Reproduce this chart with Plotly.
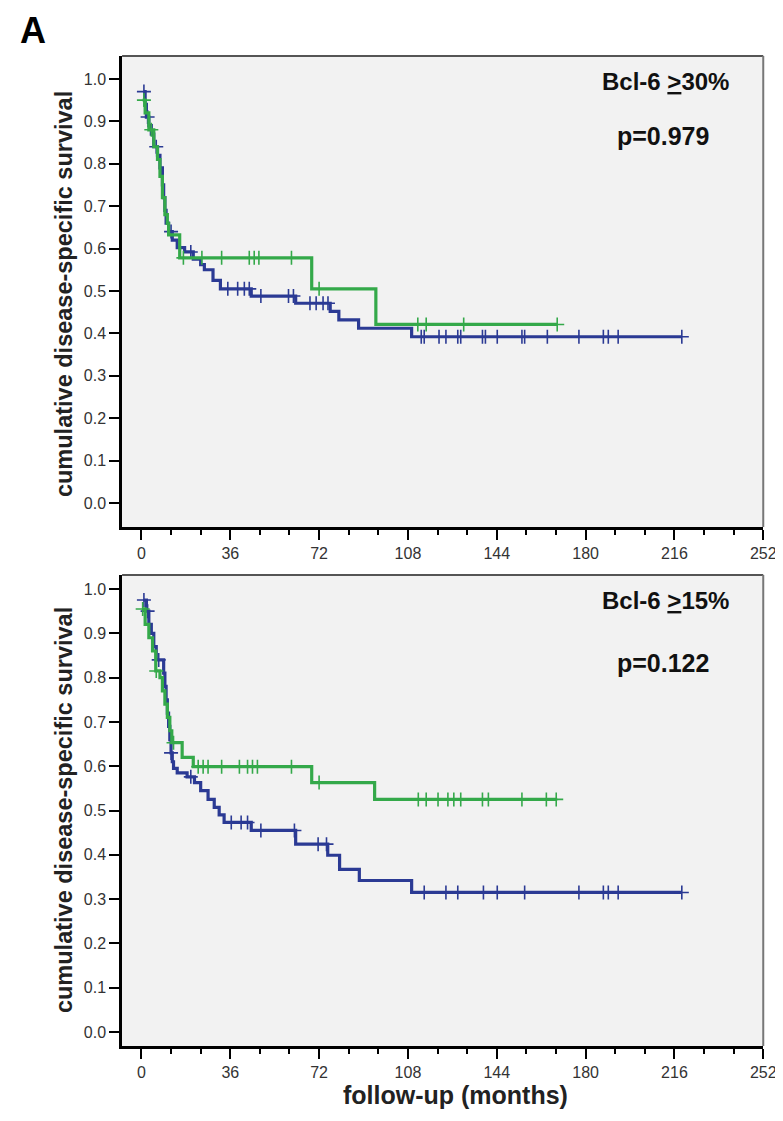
import numpy as np
import plotly.graph_objects as go

# ---------------- data ----------------
# Panel 1: Bcl-6 >=30%
p1_blue_t = [1, 1.5, 2, 3, 4, 5, 6.5, 7.5, 8.5, 9, 9.5, 10, 11, 12.5, 14.5, 17.5, 21, 24, 25.5, 29, 32, 44.5, 62.5, 76.5, 80, 88, 109.5]
p1_blue_s = [0.97, 0.94, 0.91, 0.89, 0.87, 0.84, 0.82, 0.79, 0.75, 0.72, 0.69, 0.66, 0.64, 0.62, 0.602, 0.592, 0.575, 0.562, 0.55, 0.525, 0.505, 0.488, 0.471, 0.452, 0.432, 0.412, 0.392]
p1_blue_end = 219
p1_blue_cens = [1, 2.5, 6, 12, 20, 35, 39, 41.7, 43.7, 48.4, 59.6, 61.6, 68.3, 70.8, 73.6, 75.6, 113.4, 114.6,
                120.6, 123.4, 128.2, 129.4, 138.2, 139.4, 144.2, 154.2, 155.3, 164.5, 177.3, 187.2, 189.2, 193.2, 219]

p1_green_t = [0.5, 1.5, 3, 5, 6.5, 7.5, 8.5, 9.5, 10.5, 11, 15.5, 69, 95]
p1_green_s = [0.95, 0.92, 0.88, 0.84, 0.81, 0.77, 0.72, 0.68, 0.659, 0.632, 0.578, 0.505, 0.421]
p1_green_end = 168.5
p1_green_cens = [1, 4, 17, 24.5, 32.5, 43.7, 45.7, 47.6, 60.8, 72, 112, 115.4, 130.6, 168.5]

# Panel 2: Bcl-6 >=15%
p2_blue_t = [1, 2, 3, 4, 5, 6, 9, 9.5, 10, 10.5, 11, 11.5, 12, 12.5, 13, 14.5, 18.5, 21.5, 24, 27, 29.5, 31.5, 33.5, 44.5, 62.5, 75.5, 80.3, 88.3, 109.5]
p2_blue_s = [0.975, 0.95, 0.92, 0.90, 0.87, 0.84, 0.81, 0.78, 0.75, 0.72, 0.69, 0.66, 0.63, 0.61, 0.595, 0.585, 0.576, 0.563, 0.545, 0.525, 0.507, 0.49, 0.473, 0.455, 0.424, 0.399, 0.367, 0.342, 0.315]
p2_blue_end = 219
p2_blue_cens = [1, 2.5, 7, 12, 20, 36.4, 40.4, 43, 48.4, 62, 71.6, 75, 114.6, 123.4, 128.2, 138.6, 144.2,
                155.3, 177.3, 187.2, 189.2, 193.2, 219]

p2_green_t = [0.5, 1.5, 3, 4.5, 5.8, 7.5, 8.5, 9.5, 10.5, 11.5, 12.3, 16.5, 21, 69, 94.5]
p2_green_s = [0.955, 0.92, 0.89, 0.86, 0.815, 0.80, 0.77, 0.74, 0.71, 0.68, 0.653, 0.62, 0.599, 0.563, 0.525]
p2_green_end = 168.5
p2_green_cens = [0.5, 6, 13, 23, 25, 27, 32.5, 39.7, 43, 45, 47, 60.8, 72, 112.2, 115.4, 120.2, 124.2,
                 126.6, 129.4, 138.2, 140.6, 154.2, 164.1, 168.1]

x_ticks = [0, 36, 72, 108, 144, 180, 216, 252]
y_ticks = [0.0, 0.1, 0.2, 0.3, 0.4, 0.5, 0.6, 0.7, 0.8, 0.9, 1.0]
panel_titles = ["Bcl-6 <u>></u>30%", "Bcl-6 <u>></u>15%"]
p_values = ["p=0.979", "p=0.122"]

# ---------------- styling ----------------
W, H = 783, 1121
BLUE = "#2b3a94"
GREEN = "#34a94a"
FONT = "Liberation Sans, Arial, sans-serif"

def step_xy(t, s, end):
    return list(t) + [end], list(s) + [s[-1]]

def cens_y(t, s, c):
    t = np.asarray(t)
    idx = np.searchsorted(t, np.asarray(c), side="right") - 1
    idx = np.clip(idx, 0, len(s) - 1)
    return [s[i] for i in idx]

fig = go.Figure()

panels = [
    ("x", "y", p1_blue_t, p1_blue_s, p1_blue_end, p1_blue_cens, p1_green_t, p1_green_s, p1_green_end, p1_green_cens),
    ("x2", "y2", p2_blue_t, p2_blue_s, p2_blue_end, p2_blue_cens, p2_green_t, p2_green_s, p2_green_end, p2_green_cens),
]
for xa, ya, bt, bs, be, bc, gt, gs, ge, gc in panels:
    for t, s, e, c, col in [(bt, bs, be, bc, BLUE), (gt, gs, ge, gc, GREEN)]:
        x, y = step_xy(t, s, e)
        fig.add_trace(go.Scatter(x=x, y=y, mode="lines", line=dict(color=col, width=3.2, shape="hv"),
                                 xaxis=xa, yaxis=ya, showlegend=False, hoverinfo="skip"))
        fig.add_trace(go.Scatter(x=c, y=cens_y(t, s, c), mode="markers",
                                 marker=dict(symbol="cross-thin-open", size=10, color=col,
                                             line=dict(color=col, width=1.6)),
                                 xaxis=xa, yaxis=ya, showlegend=False, hoverinfo="skip"))

xdom = [116 / W, 768 / W]
y1dom = [1 - 519 / H, 1 - 48 / H]
y2dom = [1 - 1038 / H, 1 - 567 / H]

def xaxis(anchor):
    return dict(domain=xdom, anchor=anchor, range=[-7.85, 252], tickvals=x_ticks,
                showgrid=False, zeroline=False, showline=True, linecolor="black", linewidth=2.5,
                ticks="outside", ticklen=10, tickwidth=2, tickcolor="black",
                minor=dict(dtick=12, tick0=0, ticks="outside", ticklen=5, tickwidth=1.5, tickcolor="black"),
                tickfont=dict(family=FONT, size=16, color="#333333"))

def yaxis(anchor, dom, rng):
    return dict(domain=dom, anchor=anchor, range=rng, tickvals=y_ticks, tickformat=".1f",
                showgrid=False, zeroline=False, showline=True, linecolor="black", linewidth=2.5,
                ticks="outside", ticklen=10, tickwidth=2, tickcolor="black",
                tickfont=dict(family=FONT, size=16, color="#333333"))

shapes = []
for xr, yr in [("x domain", "y domain"), ("x2 domain", "y2 domain")]:
    shapes.append(dict(type="line", xref=xr, yref=yr, x0=0, x1=1, y0=1, y1=1,
                       line=dict(color="#555555", width=2)))
    shapes.append(dict(type="line", xref=xr, yref=yr, x0=1, x1=1, y0=0, y1=1,
                       line=dict(color="#777777", width=2)))

annotations = [
    dict(text="<b>A</b>", x=25 / W, y=1 - 23 / H, xref="paper", yref="paper", showarrow=False,
         font=dict(family=FONT, size=36, color="black"), xanchor="center", yanchor="middle"),
    dict(text="<b>follow-up (months)</b>", x=455 / W, y=1 - 1087 / H, xref="paper", yref="paper",
         showarrow=False, font=dict(family=FONT, size=25, color="#222222"), xanchor="center", yanchor="middle"),
]
for i, (cy, ty, py) in enumerate([(286, 73, 128), (802, 592, 655)]):
    annotations.append(dict(text="<b>cumulative disease-specific survival</b>", x=57 / W, y=1 - cy / H,
                            xref="paper", yref="paper", showarrow=False, textangle=-90,
                            font=dict(family=FONT, size=23.5, color="#222222"),
                            xanchor="center", yanchor="middle"))
    annotations.append(dict(text="<b>" + panel_titles[i] + "</b>", x=669 / W, y=1 - ty / H,
                            xref="paper", yref="paper", showarrow=False,
                            font=dict(family=FONT, size=24, color="#111111"),
                            xanchor="center", yanchor="middle"))
    annotations.append(dict(text="<b>" + p_values[i] + "</b>", x=666 / W, y=1 - py / H,
                            xref="paper", yref="paper", showarrow=False,
                            font=dict(family=FONT, size=25, color="#111111"),
                            xanchor="center", yanchor="middle"))

fig.update_layout(
    width=W, height=H, margin=dict(l=0, r=0, t=0, b=0),
    paper_bgcolor="white", plot_bgcolor="#f2f2f2",
    xaxis=xaxis("y"), yaxis=yaxis("x", y1dom, [-0.0566, 1.054]),
    xaxis2=xaxis("y2"), yaxis2=yaxis("x2", y2dom, [-0.0316, 1.0316]),
    shapes=shapes, annotations=annotations, showlegend=False,
)

fig.write_html("out.html")
